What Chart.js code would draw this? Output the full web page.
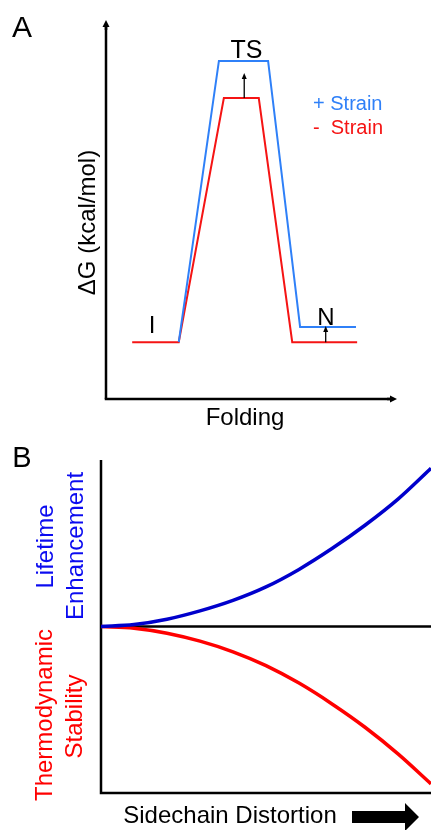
<!DOCTYPE html>
<html>
<head>
<meta charset="utf-8">
<script src="https://cdn.jsdelivr.net/npm/chart.js@4/dist/chart.umd.min.js"></script>
<style>
  html, body { margin: 0; padding: 0; background: #fff; }
  #wrap { position: relative; width: 431px; height: 830px; overflow: hidden; }
  #cA { position: absolute; left: 0; top: 0; }
  #cB { position: absolute; left: 0; top: 440px; }
</style>
</head>
<body>
<div id="wrap">
  <canvas id="cA" width="431" height="440"></canvas>
  <canvas id="cB" width="431" height="390"></canvas>
</div>
<script>
// ---------- Panel A data (reaction coordinate vs free energy, arbitrary units) ----------
const foldingMinus = [9, 25, 40.5, 52.5, 64, 86.3];
const dGMinus      = [15, 15, 79.4, 79.4, 15, 15];
const foldingPlus  = [25, 38.8, 55.7, 66.7, 85.9];
const dGPlus       = [15, 89.2, 89.2, 19, 19];
const seriesA = ['+ Strain', '-  Strain'];

// ---------- Panel B data ----------
const distortion = [0, 10, 20, 30, 40, 50, 60, 70, 80, 90, 100];
const lifetime   = [0, 0.012, 0.044, 0.094, 0.157, 0.238, 0.343, 0.468, 0.608, 0.765, 0.95];
const stability  = [0, -0.01, -0.04, -0.088, -0.152, -0.235, -0.34, -0.465, -0.605, -0.765, -0.945];

const FONT = 'Helvetica, Arial, "Liberation Sans", sans-serif';
const BLUE_A = '#2f80f8', RED_A = '#f51414';
const BLUE_B = '#0000cc', RED_B = '#ff0000';

function pts(xs, ys) { return xs.map((x, i) => ({ x: x, y: ys[i] })); }

function arrowLine(ctx, x1, y1, x2, y2, lw, hw, hl, color) {
  const ang = Math.atan2(y2 - y1, x2 - x1);
  const bx = x2 - hl * Math.cos(ang), by = y2 - hl * Math.sin(ang);
  ctx.save();
  ctx.strokeStyle = color; ctx.fillStyle = color; ctx.lineWidth = lw;
  ctx.beginPath(); ctx.moveTo(x1, y1); ctx.lineTo(bx, by); ctx.stroke();
  ctx.beginPath();
  ctx.moveTo(x2, y2);
  ctx.lineTo(bx + hw * Math.sin(ang), by - hw * Math.cos(ang));
  ctx.lineTo(bx - hw * Math.sin(ang), by + hw * Math.cos(ang));
  ctx.closePath(); ctx.fill();
  ctx.restore();
}

function txt(ctx, s, x, y, size, color, align, rot) {
  ctx.save();
  ctx.font = size + 'px ' + FONT;
  ctx.fillStyle = color;
  ctx.textAlign = align || 'center';
  ctx.textBaseline = 'alphabetic';
  ctx.translate(x, y);
  if (rot) ctx.rotate(rot);
  ctx.fillText(s, 0, 0);
  ctx.restore();
}

// ---------- Panel A ----------
const decorA = {
  id: 'decorA',
  afterDatasetsDraw(chart) {
    const ctx = chart.ctx, a = chart.chartArea;
    const xs = chart.scales.x, ys = chart.scales.y;
    ctx.save();
    ctx.strokeStyle = '#000'; ctx.lineWidth = 2.5; ctx.lineCap = 'butt';
    ctx.beginPath(); ctx.moveTo(a.left, a.bottom); ctx.lineTo(a.left, a.top + 6); ctx.stroke();
    ctx.beginPath(); ctx.moveTo(a.left - 1.25, a.bottom); ctx.lineTo(a.right - 6, a.bottom); ctx.stroke();
    ctx.restore();
    arrowLine(ctx, a.left, a.top + 10, a.left, a.top, 2.5, 3.5, 7, '#000');
    arrowLine(ctx, a.right - 10, a.bottom, a.right, a.bottom, 2.5, 3.5, 7, '#000');
    const tx = xs.getPixelForValue(47.5);
    arrowLine(ctx, tx, ys.getPixelForValue(dGMinus[2]), tx, ys.getPixelForValue(86), 1.3, 2.5, 6, '#000');
    const nx = xs.getPixelForValue(75.5);
    arrowLine(ctx, nx, ys.getPixelForValue(dGMinus[4]), nx, ys.getPixelForValue(dGPlus[3]) - 1, 1.3, 2.5, 6, '#000');
    txt(ctx, 'A', 22, 37, 30, '#000');
    txt(ctx, 'TS', 246.5, 58, 25, '#000');
    txt(ctx, 'I', 152, 333, 24, '#000');
    txt(ctx, 'N', 326, 325, 24, '#000');
    txt(ctx, seriesA[0], 313, 110, 20, BLUE_A, 'left');
    txt(ctx, seriesA[1], 313, 134, 20, RED_A, 'left');
    txt(ctx, 'Folding', 245, 425, 24, '#000');
    txt(ctx, '\u0394G (kcal/mol)', 95, 222.5, 24, '#000', 'center', -Math.PI / 2);
  }
};

new Chart(document.getElementById('cA'), {
  type: 'scatter',
  data: {
    datasets: [
      { label: seriesA[0], data: pts(foldingPlus, dGPlus), showLine: true, borderColor: BLUE_A, borderWidth: 2, pointRadius: 0, tension: 0 },
      { label: seriesA[1], data: pts(foldingMinus, dGMinus), showLine: true, borderColor: RED_A, borderWidth: 2, pointRadius: 0, tension: 0 }
    ]
  },
  options: {
    responsive: false, animation: false, devicePixelRatio: 1,
    layout: { padding: { left: 106, right: 34, top: 20, bottom: 41 } },
    plugins: { legend: { display: false }, tooltip: { enabled: false } },
    scales: {
      x: { type: 'linear', min: 0, max: 100, display: false },
      y: { type: 'linear', min: 0, max: 100, display: false }
    }
  },
  plugins: [decorA]
});

// ---------- Panel B ----------
const decorB = {
  id: 'decorB',
  beforeDatasetsDraw(chart) {
    const ctx = chart.ctx, a = chart.chartArea, ys = chart.scales.y;
    ctx.save();
    ctx.strokeStyle = '#000'; ctx.lineWidth = 2.5;
    ctx.beginPath(); ctx.moveTo(a.left, a.top); ctx.lineTo(a.left, a.bottom); ctx.lineTo(a.right, a.bottom); ctx.stroke();
    const y0 = ys.getPixelForValue(0);
    ctx.beginPath(); ctx.moveTo(a.left, y0); ctx.lineTo(a.right, y0); ctx.stroke();
    ctx.restore();
  },
  afterDatasetsDraw(chart) {
    const ctx = chart.ctx;
    txt(ctx, 'B', 22, 27, 29, '#000');
    txt(ctx, 'Lifetime', 53, 106.5, 24, '#0b0bf0', 'center', -Math.PI / 2);
    txt(ctx, 'Enhancement', 83, 106, 24, '#0b0bf0', 'center', -Math.PI / 2);
    txt(ctx, 'Thermodynamic', 52, 275, 24, RED_B, 'center', -Math.PI / 2);
    txt(ctx, 'Stability', 82, 276.5, 24, RED_B, 'center', -Math.PI / 2);
    txt(ctx, 'Sidechain Distortion', 230, 383, 24, '#000');
    ctx.save();
    ctx.fillStyle = '#000';
    ctx.beginPath();
    ctx.moveTo(352, 371); ctx.lineTo(405, 371); ctx.lineTo(405, 363); ctx.lineTo(419, 377);
    ctx.lineTo(405, 391); ctx.lineTo(405, 383); ctx.lineTo(352, 383); ctx.closePath(); ctx.fill();
    ctx.restore();
  }
};

new Chart(document.getElementById('cB'), {
  type: 'line',
  data: {
    datasets: [
      { label: 'Lifetime Enhancement', data: pts(distortion, lifetime), borderColor: BLUE_B, borderWidth: 3.5, pointRadius: 0, cubicInterpolationMode: 'monotone' },
      { label: 'Thermodynamic Stability', data: pts(distortion, stability), borderColor: RED_B, borderWidth: 3.5, pointRadius: 0, cubicInterpolationMode: 'monotone' }
    ]
  },
  options: {
    responsive: false, animation: false, devicePixelRatio: 1,
    layout: { padding: { left: 101, right: 0, top: 20, bottom: 37 } },
    plugins: { legend: { display: false }, tooltip: { enabled: false } },
    scales: {
      x: { type: 'linear', min: 0, max: 100, display: false },
      y: { type: 'linear', min: -1, max: 1, display: false }
    }
  },
  plugins: [decorB]
});
</script>
</body>
</html>
